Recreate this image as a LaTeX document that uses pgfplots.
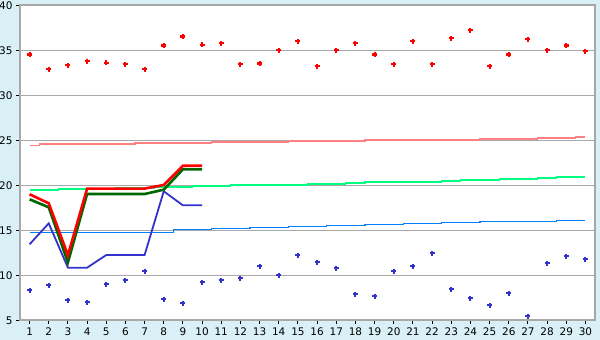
\documentclass[border=0pt]{standalone}
\usepackage{fontspec}
\setmainfont{DejaVu Sans}
\usepackage{pgfplots}
\usepackage{pgfplotstable}
\pgfplotsset{compat=1.18}
\definecolor{bgblue}{RGB}{217,240,247}
\definecolor{gridgray}{RGB}{168,168,168}
\definecolor{salmon}{RGB}{255,128,128}
\definecolor{sgreen}{RGB}{0,255,128}
\definecolor{dblue}{RGB}{0,128,255}
\definecolor{mblue}{RGB}{51,51,204}
\definecolor{dgreen}{RGB}{0,102,0}

\pgfplotstableread{
d hi lo
1 34.5 8.3
2 32.85 8.85
3 33.3 7.2
4 33.75 6.97
5 33.6 8.97
6 33.4 9.41
7 32.85 10.41
8 35.5 7.3
9 36.5 6.86
10 35.6 9.19
11 35.74 9.41
12 33.4 9.63
13 33.5 10.97
14 34.96 9.97
15 35.96 12.19
16 33.2 11.41
17 34.96 10.74
18 35.74 7.86
19 34.5 7.63
20 33.4 10.41
21 35.96 10.97
22 33.4 12.41
23 36.3 8.41
24 37.2 7.41
25 33.2 6.63
26 34.5 7.97
27 36.2 5.41
28 34.96 11.3
29 35.5 12.08
30 34.85 11.74
}\points

\pgfplotstableread{
d pink green blue
1 24.40 19.45 14.74
2 24.56 19.45 14.74
3 24.56 19.56 14.74
4 24.56 19.56 14.74
5 24.56 19.56 14.74
6 24.56 19.67 14.74
7 24.67 19.67 14.74
8 24.67 19.78 14.74
9 24.67 19.78 15.08
10 24.67 19.89 15.08
11 24.78 19.89 15.19
12 24.78 20.00 15.19
13 24.78 20.00 15.30
14 24.78 20.00 15.30
15 24.89 20.00 15.41
16 24.89 20.11 15.41
17 24.89 20.11 15.52
18 24.89 20.23 15.52
19 25.00 20.34 15.63
20 25.00 20.34 15.63
21 25.00 20.34 15.74
22 25.00 20.34 15.74
23 25.00 20.45 15.86
24 25.00 20.56 15.86
25 25.11 20.56 15.97
26 25.11 20.67 15.97
27 25.11 20.67 15.97
28 25.22 20.78 15.97
29 25.22 20.89 16.08
30 25.33 20.89 16.08
}\steps

\pgfplotstableread{
d r g b
1 18.97 18.41 13.41
2 17.97 17.52 15.74
3 12.2 11.4 10.81
4 19.59 19.0 10.81
5 19.59 19.0 12.22
6 19.59 19.0 12.22
7 19.6 19.0 12.22
8 20.0 19.48 19.3
9 22.14 21.74 17.74
10 22.14 21.74 17.74
}\lines

\begin{document}
\begin{tikzpicture}
\fill[bgblue] (0,0) rectangle (600bp,340bp);
\path[use as bounding box] (0,0) rectangle (600bp,340bp);
\begin{axis}[
  at={(20bp,20bp)}, anchor=south west,
  scale only axis, width=575bp, height=315bp,
  xmin=0.5, xmax=30.5, ymin=5, ymax=40,
  xtick={1,...,30}, ytick={5,10,...,40},
  xtick pos=bottom, ytick pos=left,
  tick align=outside, major tick length=4bp,
  tick style={black, line width=0.9bp},
  axis background/.style={fill=white},
  axis line style={draw=gridgray, line width=1.1bp},
  ymajorgrids, grid style={gridgray, line width=0.9bp},
  tick label style={font=\fontsize{10.5}{12}\selectfont},
  yticklabel style={yshift=-0.5bp},
  /pgf/number format/assume math mode=true,
  clip=false,
]
\addplot[salmon, line width=1.2bp, const plot mark mid] table[x=d, y=pink] {\steps};
\addplot[sgreen, line width=1.2bp, const plot mark mid] table[x=d, y=green] {\steps};
\addplot[dblue, line width=1.2bp, const plot mark mid] table[x=d, y=blue] {\steps};
\addplot[mblue, line width=1.8bp] table[x=d, y=b] {\lines};
\addplot[dgreen, line width=2.6bp] table[x=d, y=g] {\lines};
\addplot[red, line width=2.6bp] table[x=d, y=r] {\lines};
\addplot[only marks, red, mark=+, mark size=2.5bp, mark options={line width=2.1bp}] table[x=d, y=hi] {\points};
\addplot[only marks, mblue, mark=+, mark size=2.5bp, mark options={line width=2.1bp}] table[x=d, y=lo] {\points};
\end{axis}
\end{tikzpicture}
\end{document}
